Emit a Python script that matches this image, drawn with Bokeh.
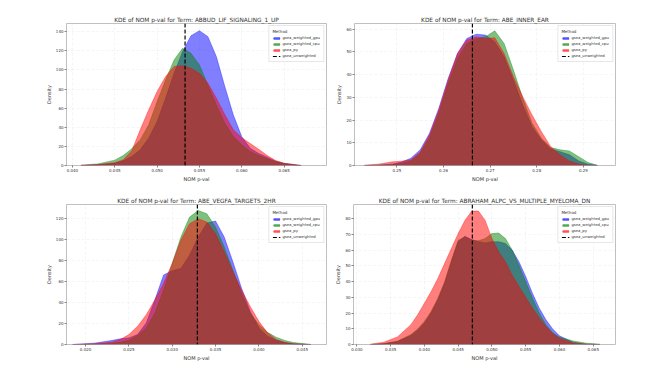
from bokeh.plotting import figure
from bokeh.layouts import column, row
from bokeh.models import Range1d, FixedTicker, NumeralTickFormatter, Span, Legend, LegendItem
from bokeh.embed import file_html
from bokeh.resources import INLINE

methods = ["gsea_weighted_gpu", "gsea_weighted_cpu", "gsea_py"]
colors = ["blue", "green", "red"]
unweighted_label = "gsea_unweighted"

terms = ["ABBUD_LIF_SIGNALING_1_UP", "ABE_INNER_EAR",
         "ABE_VEGFA_TARGETS_2HR", "ABRAHAM_ALPC_VS_MULTIPLE_MYELOMA_DN"]
unweighted = [0.0533, 0.2662, 0.0329, 0.0471]

# Panel 1
p1_x = [0.041, 0.043, 0.045, 0.046, 0.047, 0.048, 0.049, 0.050, 0.051, 0.052, 0.053, 0.054,
        0.055, 0.056, 0.057, 0.058, 0.059, 0.060, 0.061, 0.062, 0.063, 0.064, 0.065, 0.067]
p1_gpu = [0.0, 0.7, 2.4, 4.9, 9.4, 16.4, 28.6, 46.0, 70.4, 96.5, 119.1, 135.8,
          141.1, 134.8, 113.9, 82.5, 52.9, 30.0, 18.0, 12.5, 8.7, 4.5, 2.1, 0.0]
p1_cpu = [0.3, 1.7, 5.6, 10.4, 17.4, 26.8, 42.5, 66.9, 89.5, 110.4, 122.6, 117.4,
          105.2, 84.3, 63.4, 44.2, 30.3, 21.6, 14.6, 10.4, 7.0, 4.2, 2.1, 0.0]
p1_py = [0.3, 1.0, 3.0, 5.9, 15.3, 37.3, 58.2, 77.4, 93.1, 103.6, 104.5, 101.8,
         96.5, 86.1, 70.4, 53.0, 37.3, 29.0, 23.0, 17.0, 10.5, 5.2, 2.4, 0.0]

# Panel 2
p2_x = [0.243, 0.246, 0.249, 0.251, 0.253, 0.255, 0.257, 0.259, 0.261, 0.263, 0.265, 0.267,
        0.269, 0.271, 0.273, 0.275, 0.277, 0.279, 0.281, 0.283, 0.285, 0.287, 0.289, 0.291, 0.293]
p2_gpu = [0.0, 0.15, 0.6, 1.5, 3.2, 6.9, 14.2, 25.2, 38.3, 49.3, 55.9, 57.8,
          57.4, 54.4, 47.9, 37.6, 26.6, 17.1, 11.3, 7.3, 6.1, 4.7, 2.0, 0.6, 0.1]
p2_cpu = [0.0, 0.15, 0.4, 0.9, 2.0, 5.4, 12.3, 23.0, 36.1, 47.1, 53.7, 55.9,
          56.6, 59.3, 53.7, 42.0, 29.6, 18.6, 12.0, 7.9, 6.9, 6.4, 3.9, 1.3, 0.1]
p2_py = [0.15, 0.6, 1.6, 1.9, 2.5, 5.9, 13.5, 24.4, 37.6, 49.3, 55.2, 56.6,
         55.9, 56.2, 49.3, 39.1, 30.3, 22.2, 14.9, 8.3, 4.7, 2.0, 0.7, 0.1, 0.0]

# Panel 3
p3_x = [0.0185, 0.021, 0.023, 0.024, 0.025, 0.026, 0.027, 0.028, 0.029, 0.030, 0.031, 0.032,
        0.033, 0.034, 0.035, 0.036, 0.037, 0.038, 0.039, 0.040, 0.041, 0.042, 0.043, 0.044, 0.046]
p3_gpu = [0.0, 1.3, 3.8, 5.4, 6.3, 9.5, 20.5, 42.6, 66.3, 70.4, 72.6, 85.3,
          102.6, 115.9, 117.8, 102.6, 78.9, 53.7, 31.6, 15.8, 7.9, 4.1, 1.9, 0.6, 0.0]
p3_cpu = [0.0, 0.3, 1.3, 2.2, 4.1, 8.5, 15.8, 30.0, 52.1, 77.4, 102.6, 121.6,
          127.9, 124.7, 112.1, 93.1, 71.0, 48.9, 30.0, 18.9, 11.6, 6.9, 3.8, 1.9, 0.0]
p3_py = [0.0, 0.6, 2.2, 4.7, 9.5, 17.4, 28.4, 42.6, 58.4, 77.4, 99.5, 115.3,
         120.0, 116.8, 105.8, 88.4, 69.5, 52.1, 36.3, 22.1, 11.1, 4.7, 1.9, 0.6, 0.0]

# Panel 4
p4_x = [0.032, 0.034, 0.036, 0.038, 0.039, 0.040, 0.041, 0.042, 0.043, 0.044, 0.045, 0.046,
        0.047, 0.048, 0.049, 0.050, 0.051, 0.052, 0.053, 0.054, 0.055, 0.056, 0.057, 0.058,
        0.059, 0.060, 0.062, 0.064, 0.066]
p4_gpu = [0.0, 0.4, 1.9, 5.7, 9.1, 13.7, 20.0, 28.4, 38.9, 52.6, 65.3, 68.8,
          66.7, 65.3, 64.6, 65.3, 65.3, 64.2, 60.0, 52.6, 43.2, 32.6, 23.2, 15.8,
          9.9, 5.5, 1.5, 0.2, 0.0]
p4_cpu = [0.0, 0.6, 2.1, 6.3, 9.9, 14.7, 21.1, 29.5, 40.0, 53.7, 66.3, 68.4,
          66.3, 65.9, 67.4, 70.5, 70.9, 67.4, 60.0, 50.5, 40.0, 29.5, 20.0, 12.6,
          7.4, 4.6, 2.3, 0.8, 0.2]
p4_py = [0.2, 1.5, 4.8, 12.6, 18.9, 26.3, 33.7, 42.1, 51.6, 61.1, 70.5, 78.9,
         84.8, 84.8, 78.9, 67.4, 58.9, 52.6, 44.0, 37.0, 30.0, 23.0, 17.0, 11.5,
         7.0, 4.0, 1.0, 0.2, 0.0]

# axis settings
x_ranges = [(0.0393, 0.0700), (0.2409, 0.2969), (0.0178, 0.0478), (0.0295, 0.0683)]
y_tops = [148.6, 62.5, 133.6, 89.0]
x_ticks = [[0.040, 0.045, 0.050, 0.055, 0.060, 0.065],
           [0.25, 0.26, 0.27, 0.28, 0.29],
           [0.020, 0.025, 0.030, 0.035, 0.040, 0.045],
           [0.030, 0.035, 0.040, 0.045, 0.050, 0.055, 0.060, 0.065]]
x_formats = ["0.000", "0.00", "0.000", "0.000"]
y_ticks = [[0, 20, 40, 60, 80, 100, 120, 140],
           [0, 10, 20, 30, 40, 50, 60],
           [0, 20, 40, 60, 80, 100, 120],
           [0, 10, 20, 30, 40, 50, 60, 70, 80]]

panel_x = [p1_x, p2_x, p3_x, p4_x]
panel_series = [[p1_gpu, p1_cpu, p1_py], [p2_gpu, p2_cpu, p2_py],
                [p3_gpu, p3_cpu, p3_py], [p4_gpu, p4_cpu, p4_py]]

FONT = "DejaVu Sans"
TXT = "#333333"

# layout: (width, height, border left, right, top, bottom)
frames = [(328, 186, 66, 2, 23, 21), (297, 186, 26, 10, 23, 21),
          (328, 177, 66, 2, 18, 18), (297, 177, 25, 10, 18, 18)]

figs = []
for i in range(4):
    w, h, bl, br, bt, bb = frames[i]
    p = figure(width=w, height=h, min_border_left=bl, min_border_right=br,
               min_border_top=bt, min_border_bottom=bb,
               x_range=Range1d(*x_ranges[i]), y_range=Range1d(0, y_tops[i]),
               output_backend="svg", toolbar_location=None,
               title="KDE of NOM p-val for Term: " + terms[i])
    p.title.align = "center"
    p.title.text_font = FONT
    p.title.text_font_size = "5.8px"
    p.title.text_font_style = "normal"
    p.title.text_color = TXT
    p.title.offset = 0
    p.title.standoff = 2

    p.outline_line_color = "#b0b0b0"
    p.outline_line_width = 0.8
    p.background_fill_color = "white"

    xs = panel_x[i]
    items = []
    for s, (vals, col, name) in enumerate(zip(panel_series[i], colors, methods)):
        a = p.varea(x=xs, y1=0, y2=vals, fill_color=col, fill_alpha=0.5)
        l = p.line(x=xs, y=vals, line_color=col, line_alpha=0.5, line_width=0.7)
        items.append(LegendItem(label=name, renderers=[a, l]))

    span = Span(location=unweighted[i], dimension="height", line_color="black",
                line_dash="4 2", line_width=1.2)
    p.add_layout(span)
    dl = p.line(x=[unweighted[i]], y=[0], line_color="black", line_dash="4 2", line_width=1.2)
    items.append(LegendItem(label=unweighted_label, renderers=[dl]))

    leg = Legend(items=items, location="top_right", title="Method")
    leg.title_text_font = FONT
    leg.title_text_font_size = "4px"
    leg.title_text_font_style = "normal"
    leg.title_text_color = TXT
    leg.title_standoff = 1
    leg.label_text_font = FONT
    leg.label_text_font_size = "3.8px"
    leg.label_text_color = TXT
    leg.label_height = 5
    leg.label_standoff = 2
    leg.glyph_height = 4
    leg.glyph_width = 8
    leg.spacing = 1
    leg.padding = 3
    leg.margin = 2
    leg.border_line_color = "#d0d0d0"
    leg.border_line_width = 0.6
    leg.background_fill_alpha = 0.8
    p.add_layout(leg)

    for ax in (p.xaxis[0], p.yaxis[0]):
        ax.axis_line_color = None
        ax.major_tick_line_color = "#333333"
        ax.major_tick_line_width = 0.6
        ax.major_tick_out = 2
        ax.major_tick_in = 0
        ax.minor_tick_line_color = None
        ax.major_label_text_font = FONT
        ax.major_label_text_font_size = "4px"
        ax.major_label_text_color = TXT
        ax.major_label_standoff = 1
        ax.axis_label_text_font = FONT
        ax.axis_label_text_font_size = "5px"
        ax.axis_label_text_font_style = "normal"
        ax.axis_label_text_color = TXT
        ax.axis_label_standoff = 1
    p.xaxis[0].ticker = FixedTicker(ticks=x_ticks[i])
    p.xaxis[0].formatter = NumeralTickFormatter(format=x_formats[i])
    p.yaxis[0].ticker = FixedTicker(ticks=y_ticks[i])
    p.xaxis[0].axis_label = "NOM p-val"
    p.yaxis[0].axis_label = "Density"

    p.grid.grid_line_color = "#dddddd"
    p.grid.grid_line_alpha = 0.6
    p.grid.grid_line_dash = "3 2"
    p.grid.grid_line_width = 0.5
    figs.append(p)

layout = column(row(figs[0], figs[1]), row(figs[2], figs[3]))
open("out.html", "w").write(file_html(layout, INLINE))
